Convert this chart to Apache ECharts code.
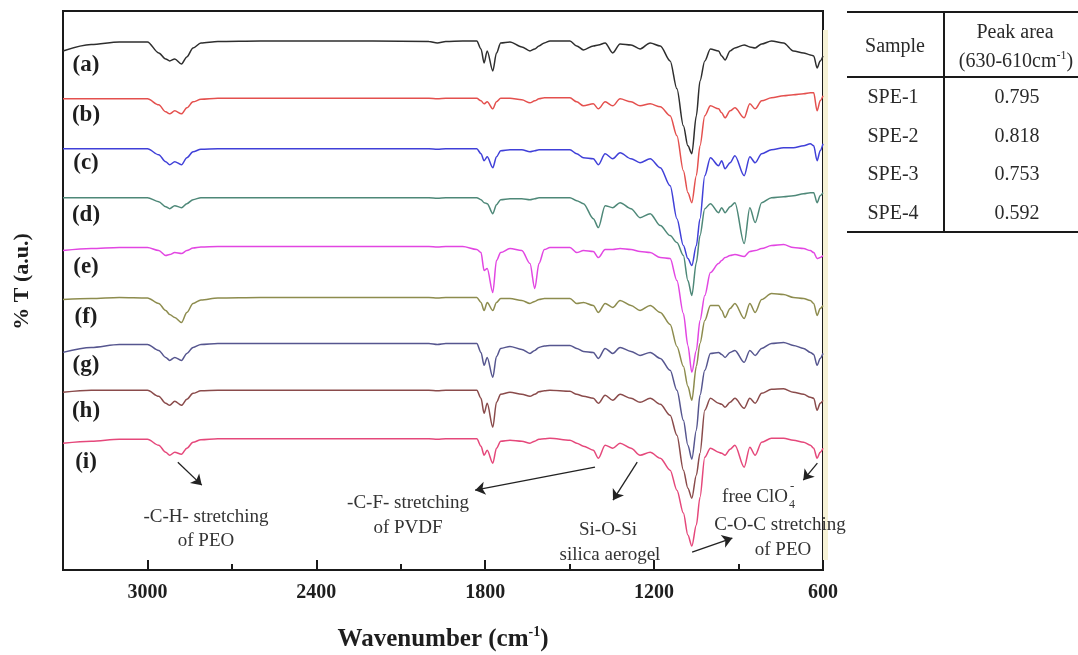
<!DOCTYPE html>
<html><head><meta charset="utf-8">
<script src="https://cdn.jsdelivr.net/npm/echarts@6/dist/echarts.min.js"></script>
<style>html,body{margin:0;padding:0;background:#fff}#c{width:1078px;height:655px}</style>
</head><body><div id="c"></div>
<script>
// ---- data (wavenumber in cm-1, transmittance in arbitrary offset units) ----
const wavenumbers = [3300,3200,3100,3000,
  2960,2935,2921,2903,2879,2860,2838,2810,
  2750,2600,2400,2200,2000,1970,1940,1880,1830,
  1815,1804,1793,1773,1760,1745,1712,1670,
  1641,1624,1609,1590,1570,1499,1475,1451,
  1416,1398,1374,1347,1321,1282,1250,1214,
  1178,1143,1119,1096,1080,1066,1050,1037,
  1020,1000,971,960,948,930,913,880,
  860,841,818,783,740,705,669,645,
  633,621,610,600];

const specA = [52.0,52.65,52.9,52.9,
  51.8,51.2,51.0,51.2,50.7,51.4,52.3,52.8,
  52.95,53.0,53.0,53.0,52.95,52.8,52.95,53.0,53.0,
  52.2,50.8,52.0,50.0,51.8,52.8,52.9,52.4,
  52.0,52.2,52.5,52.8,53.0,53.0,52.5,52.1,
  52.5,52.6,52.8,51.8,52.7,52.6,52.2,52.8,
  52.5,51.0,48.2,44.5,42.5,41.7,45.5,49.0,
  51.0,52.2,52.0,51.5,51.1,52.0,52.3,52.6,
  52.4,52.3,52.7,53.0,52.8,52.0,51.8,51.6,
  51.5,50.3,51.0,51.5];
const specB = [47.2,47.2,47.2,47.2,
  46.6,45.9,45.7,46.0,45.7,46.3,46.9,47.15,
  47.25,47.25,47.25,47.25,47.25,47.2,47.25,47.25,47.25,
  47.0,46.7,46.9,46.2,46.9,47.25,47.25,47.1,
  46.8,47.0,47.2,47.3,47.3,47.3,46.9,46.5,
  46.7,46.2,46.9,46.5,47.2,46.9,46.5,46.7,
  46.4,45.5,43.5,40.0,37.8,36.8,39.5,42.5,
  45.5,46.5,46.2,45.8,45.3,46.0,46.3,45.3,
  46.7,46.2,47.0,47.3,47.5,47.6,47.7,47.8,
  47.8,46.0,47.0,47.5];
const specC = [42.2,42.2,42.2,42.2,
  41.6,40.9,40.6,40.9,40.6,41.3,41.9,42.15,
  42.2,42.2,42.2,42.2,42.2,42.15,42.2,42.2,42.2,
  41.7,41.0,41.4,40.3,41.4,42.0,42.1,42.1,
  41.9,42.0,42.1,42.1,42.1,42.1,41.7,41.3,
  41.2,40.6,41.7,41.2,41.8,41.2,40.8,41.2,
  40.3,38.5,35.2,32.5,31.2,30.5,32.5,35.2,
  39.5,41.3,40.5,41.0,40.2,40.8,41.5,39.5,
  41.4,40.8,41.7,42.1,42.3,42.3,42.5,42.7,
  42.5,41.0,42.0,42.7];
const specD = [37.3,37.3,37.3,37.3,
  36.9,36.4,36.2,36.5,36.3,36.7,37.1,37.3,
  37.3,37.3,37.3,37.3,37.3,37.25,37.3,37.3,37.3,
  37.1,36.8,36.7,35.7,36.6,37.1,37.2,37.2,
  37.1,37.2,37.3,37.3,37.3,37.3,37.0,36.7,
  35.2,34.3,36.5,36.3,36.8,36.2,35.3,35.7,
  34.5,33.5,32.8,31.5,29.0,27.5,30.8,33.5,
  36.2,36.7,35.8,36.3,35.8,36.4,36.8,32.7,
  36.3,34.8,36.8,37.3,37.4,37.5,37.7,37.8,
  37.8,36.8,37.5,37.8];
const specE = [32.0,32.2,32.3,32.3,
  32.0,31.5,31.6,31.8,31.7,32.0,32.25,32.35,
  32.4,32.4,32.4,32.4,32.4,32.35,32.4,32.4,32.1,
  31.8,30.0,30.2,27.8,31.0,31.8,32.2,32.0,
  30.7,28.2,30.7,32.1,32.3,32.3,31.8,32.0,
  31.9,31.3,32.1,32.1,32.2,32.1,31.9,31.8,
  31.3,31.2,29.0,25.7,22.5,19.8,22.0,25.0,
  27.5,29.8,30.7,31.0,31.3,31.5,31.6,31.4,
  31.9,32.0,32.2,32.5,32.6,32.3,32.2,32.0,
  31.8,31.2,31.3,31.5];
const specF = [27.1,27.2,27.3,27.25,
  26.7,26.0,25.6,25.3,24.8,25.8,26.7,27.05,
  27.25,27.3,27.3,27.3,27.3,27.25,27.3,27.3,27.3,
  26.8,26.0,26.8,26.0,26.8,27.2,27.2,27.0,
  26.7,26.9,27.1,27.2,27.2,27.2,26.7,26.8,
  26.5,25.8,26.7,26.3,27.0,26.5,26.0,26.5,
  25.8,24.6,22.4,20.4,18.4,17.0,20.4,22.7,
  25.0,26.5,26.5,26.0,25.3,26.2,26.7,25.2,
  26.7,25.8,27.1,27.7,27.6,27.3,27.2,27.0,
  26.7,25.5,26.2,26.5];
const specG = [21.8,22.3,22.6,22.6,
  22.0,21.3,21.0,21.3,21.0,21.7,22.3,22.6,
  22.7,22.7,22.7,22.7,22.7,22.6,22.7,22.7,22.7,
  21.8,20.5,21.3,19.3,21.4,22.2,22.4,22.1,
  21.7,22.0,22.3,22.45,22.5,22.5,22.2,21.9,
  21.8,21.2,22.2,21.7,22.3,21.9,21.5,21.8,
  21.2,20.0,18.0,15.0,12.5,11.1,14.0,17.5,
  20.0,21.7,21.8,21.6,21.3,21.8,22.0,20.8,
  22.0,21.5,22.2,22.7,22.8,22.5,22.2,21.8,
  21.6,20.5,21.2,21.7];
const specH = [17.8,18.0,18.0,18.0,
  17.4,16.7,16.5,16.9,16.5,17.1,17.7,17.95,
  18.0,18.0,18.0,18.0,18.0,17.95,18.0,18.0,18.0,
  17.2,15.7,16.7,14.3,16.8,17.6,17.8,17.6,
  17.4,17.6,17.85,17.95,18.0,17.9,17.6,17.4,
  17.2,16.7,17.5,17.0,17.6,17.2,16.8,17.2,
  16.6,15.5,13.5,10.0,8.2,7.2,9.5,11.7,
  16.0,17.2,16.7,16.6,16.3,16.8,17.2,16.2,
  17.2,16.7,17.7,18.1,18.15,17.8,17.6,17.3,
  17.2,16.0,16.7,17.0];
const specI = [12.7,12.9,13.1,13.1,
  12.5,11.8,11.5,11.8,11.6,12.2,12.8,13.05,
  13.15,13.15,13.15,13.15,13.15,13.1,13.15,13.15,13.15,
  12.4,11.5,12.0,10.7,12.2,12.9,13.0,12.9,
  12.7,12.9,13.1,13.15,13.2,13.0,12.7,12.4,
  12.0,11.2,12.5,12.2,12.7,12.2,11.5,11.8,
  11.2,10.0,8.0,5.7,3.5,2.4,4.5,7.3,
  11.3,12.2,11.8,11.7,11.5,12.1,12.5,10.3,
  12.3,11.5,12.8,13.2,13.2,13.0,12.8,12.5,
  12.2,11.2,11.8,12.2];

const seriesNames = ['(a)','(b)','(c)','(d)','(e)','(f)','(g)','(h)','(i)'];
const seriesData = [specA,specB,specC,specD,specE,specF,specG,specH,specI];
const xTickLabels = [3000, 2400, 1800, 1200, 600];

const tableSamples = ['SPE-1','SPE-2','SPE-3','SPE-4'];
const tablePeakArea = ['0.795','0.818','0.753','0.592'];

// arrows: [fromWavenumber, fromT, toWavenumber, toT]
const arrowCoords = [
  [2892, 10.8, 2807, 8.5],
  [1410, 10.3, 1836, 8.0],
  [1260, 10.8, 1346, 7.0],
  [620, 10.7, 670, 9.0],
  [1065, 1.8, 922, 3.2]
];

// ---- styles ----
const colors = ['#2e2e2e','#e4504e','#4040d8','#4e8878','#e246e2','#8d8c4e','#56568f','#8a4b4b','#e5487b'];
const serif = '"Liberation Serif","Times New Roman",serif';
const labelY = [65,115,163,215,267,317,365,411,462];

const chart = echarts.init(document.getElementById('c'), null, {renderer:'canvas'});

const series = seriesData.map((vals, k) => ({
  name: seriesNames[k],
  type: 'line',
  data: wavenumbers.map((w, i) => [w, vals[i]]),
  showSymbol: false,
  smooth: 0.3,
  smoothMonotone: 'x',
  silent: true,
  lineStyle: { color: colors[k], width: 1.5 },
  z: 3
}));
series[series.length - 1].markLine = {
  silent: true,
  symbol: ['none', 'arrow'],
  symbolSize: 10,
  label: { show: false },
  lineStyle: { color: '#222', width: 1.3, type: 'solid' },
  itemStyle: { color: '#222' },
  emphasis: { disabled: true },
  animation: false,
  data: arrowCoords.map(a => [{ coord: [a[0], a[1]] }, { coord: [a[2], a[3]] }])
};

function txt(text, x, y, opt) {
  opt = opt || {};
  return {
    type: 'text', z: 10, silent: true,
    style: Object.assign({
      text: text, x: x, y: y,
      font: (opt.bold ? 'bold ' : '') + (opt.size || 19) + 'px ' + serif,
      fill: opt.color || '#2a2a2a',
      align: opt.align || 'center', textAlign: opt.align || 'center',
      verticalAlign: 'middle', textVerticalAlign: 'middle'
    }, opt.extra || {})
  };
}
function hline(x1, y1, x2, y2, w) {
  return { type: 'line', z: 10, silent: true, shape: {x1, y1, x2, y2}, style: { stroke: '#1a1a1a', lineWidth: w || 2 } };
}

const graphics = [];
// faint strip at right edge of plot frame
graphics.push({ type: 'rect', z: 0, silent: true, shape: {x: 823, y: 30, width: 5, height: 530}, style: {fill: '#f6f2d6'} });
// series labels
seriesNames.forEach((n, k) => graphics.push(txt(n, 86, labelY[k], {bold: true, size: 23, color: '#1e1e1e'})));
// annotation texts
graphics.push(txt('-C-H- stretching', 206, 517, {color: '#333'}));
graphics.push(txt('of PEO', 206, 541, {color: '#333'}));
graphics.push(txt('-C-F- stretching', 408, 503, {color: '#333'}));
graphics.push(txt('of PVDF', 408, 528, {color: '#333'}));
graphics.push(txt('Si-O-Si', 608, 530, {color: '#333'}));
graphics.push(txt('silica aerogel', 610, 555, {color: '#333'}));
graphics.push(txt('free ClO', 788, 497, {color: '#333', align: 'right'}));
graphics.push(txt('4', 789, 505, {color: '#333', align: 'left', size: 12}));
graphics.push(txt('-', 790, 487, {color: '#333', align: 'left', size: 13}));
graphics.push(txt('C-O-C stretching', 780, 525, {color: '#333'}));
graphics.push(txt('of PEO', 783, 550, {color: '#333'}));
// table
graphics.push(hline(847, 12, 1078, 12, 2));
graphics.push(hline(847, 77, 1078, 77, 2));
graphics.push(hline(847, 232, 1078, 232, 2));
graphics.push(hline(944, 12, 944, 232, 2));
graphics.push(txt('Sample', 895, 47, {size: 20}));
graphics.push(txt('Peak area', 1015, 33, {size: 20}));
graphics.push(txt('{n|(630-610cm}{sup|-1}{n|)}', 1016, 62, {size: 20, extra: {rich: {
  n: {font: '20px ' + serif, fill: '#2a2a2a', lineHeight: 24},
  sup: {font: '12px ' + serif, fill: '#2a2a2a', verticalAlign: 'top', lineHeight: 12}
}}}));
const rowY = [98, 137, 175, 214];
tableSamples.forEach((s, i) => {
  graphics.push(txt(s, 893, rowY[i], {size: 20}));
  graphics.push(txt(tablePeakArea[i], 1017, rowY[i], {size: 20}));
});

const option = {
  animation: false,
  backgroundColor: '#ffffff',
  grid: { left: 63, right: 255, top: 11, bottom: 85, show: true, borderColor: '#1a1a1a', borderWidth: 2, backgroundColor: 'transparent', outerBoundsMode: 'none', containLabel: false },
  xAxis: [
    { type: 'value', min: 600, max: 3300, interval: 300, inverse: true, position: 'bottom',
      axisLine: { show: true, lineStyle: { color: '#1a1a1a', width: 2 } },
      axisTick: { show: true, inside: true, length: 6, lineStyle: { color: '#1a1a1a', width: 2 } },
      axisLabel: { show: false }, splitLine: { show: false } },
    { type: 'value', min: 600, max: 3300, interval: 600, inverse: true, position: 'bottom',
      axisLine: { show: false },
      axisTick: { show: true, inside: true, length: 10, lineStyle: { color: '#1a1a1a', width: 2 } },
      axisLabel: { show: true, margin: 13, showMaxLabel: false, color: '#1e1e1e', fontFamily: serif, fontWeight: 'bold', fontSize: 20,
        formatter: v => xTickLabels.indexOf(v) >= 0 ? String(v) : '' },
      splitLine: { show: false },
      name: '{b|Wavenumber (cm}{s|-1}{b|)}', nameLocation: 'middle', nameGap: 55,
      nameTextStyle: { rich: {
        b: { fontFamily: serif, fontWeight: 'bold', fontSize: 25, color: '#1e1e1e', lineHeight: 30 },
        s: { fontFamily: serif, fontWeight: 'bold', fontSize: 14, color: '#1e1e1e', verticalAlign: 'top', lineHeight: 14 }
      } } }
  ],
  yAxis: { type: 'value', min: 0, max: 56, axisLine: { show: true, lineStyle: { color: '#1a1a1a', width: 2 } },
    axisTick: { show: false }, axisLabel: { show: false }, splitLine: { show: false },
    name: '% T (a.u.)', nameLocation: 'middle', nameGap: 30, nameRotate: 90,
    nameTextStyle: { fontFamily: serif, fontWeight: 'bold', fontSize: 22, color: '#1e1e1e', padding: [0, 0, 0, 18] } },
  series: series,
  graphic: graphics
};
chart.setOption(option);
</script></body></html>
